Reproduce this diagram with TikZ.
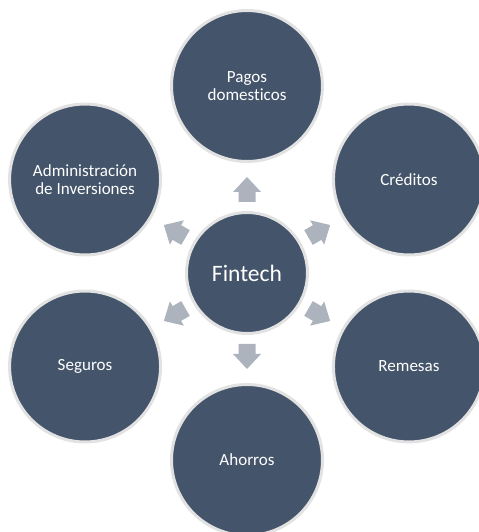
\documentclass[tikz,border=0pt]{standalone}
\usepackage{fontspec}
\setmainfont{Carlito}[Ligatures=NoCommon]
\usetikzlibrary{calc}
\definecolor{azul}{HTML}{44546A}
\definecolor{flecha}{HTML}{ADB3BD}
\definecolor{borde}{HTML}{E2E2E2}
\begin{document}
\begin{tikzpicture}[x=0.02cm, y=0.02cm, line join=round, line cap=round,
	circulo/.style={circle, fill=azul, draw=borde, line width=0.06cm, inner sep=0pt, text=white, align=center, minimum size=3.02cm, font=\fontsize{9.7}{10.6}\selectfont},
	centro/.style={circulo, minimum size=2.42cm, font=\fontsize{13.4}{15}\selectfont}]
		\def\R{187} % distancia al centro
		\useasboundingbox (0,0) rectangle (478,532);
		\coordinate (o) at (247,259);
		\node[centro] (fintech) at (o) {Fintech};
		\node[circulo] (pagos) at ($(o)+(90:\R)$) {Pagos\\domesticos};
		\node[circulo] (creditos) at ($(o)+(30:\R)$) {Créditos};
		\node[circulo] (remesas) at ($(o)+(-30:\R)$) {Remesas};
		\node[circulo] (ahorros) at ($(o)+(-90:\R)$) {Ahorros};
		\node[circulo] (seguros) at ($(o)+(-150:\R)$) {Seguros};
		\node[circulo] (admin) at ($(o)+(150:\R)$) {Administración\\de Inversiones};
		\foreach \a in {90,30,-30,-90,-150,150}
		\fill[flecha, shift={(o)}, rotate=\a] (71,-8.5)--(81,-8.5)--(81,-14)--(96,0)--(81,14)--(81,8.5)--(71,8.5)--cycle;
\end{tikzpicture}
\end{document}
